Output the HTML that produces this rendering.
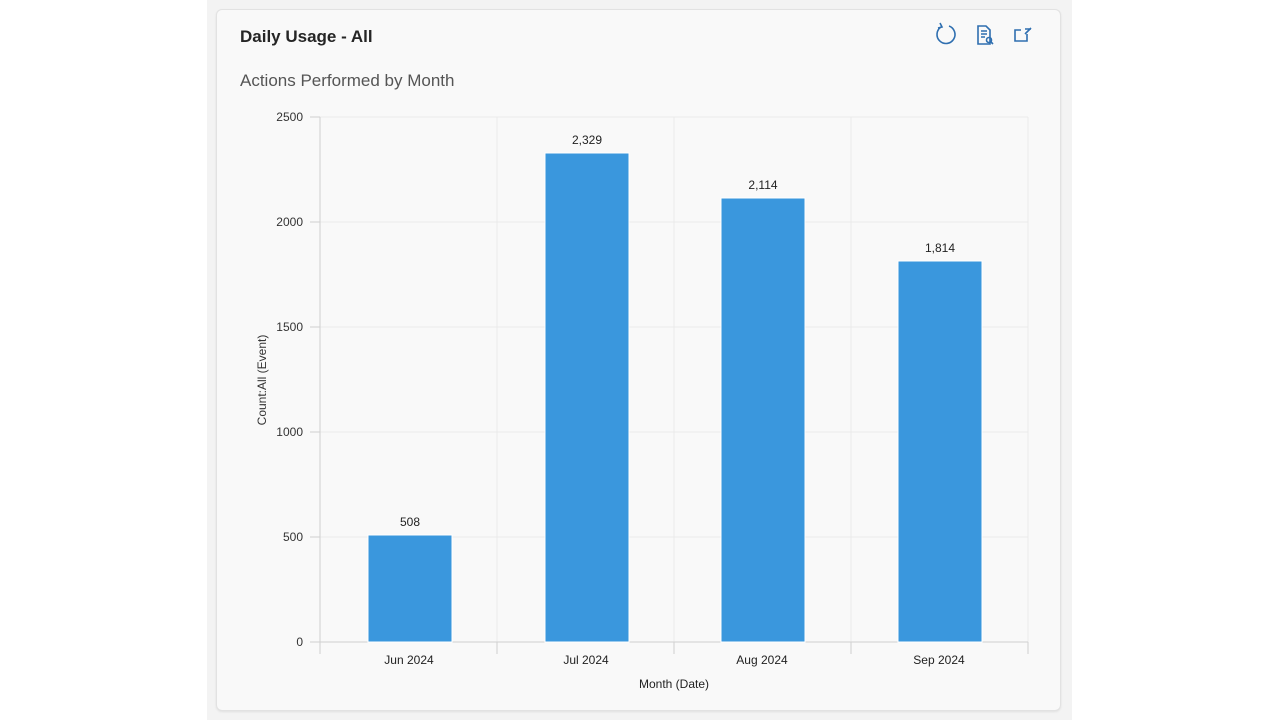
<!DOCTYPE html>
<html><head><meta charset="utf-8"><style>
html,body{margin:0;padding:0;background:#fff;width:1280px;height:720px;overflow:hidden;font-family:"Segoe UI","Liberation Sans",sans-serif;}
.outer{position:absolute;left:207px;top:0;width:865px;height:720px;background:#f3f3f3;}
.card{position:absolute;left:216px;top:9px;width:843px;height:700px;background:#f9f9f9;border:1px solid #e2e2e2;border-radius:6px;box-shadow:0 1px 2px rgba(0,0,0,0.08);}
</style></head><body>
<div class="outer"></div>
<div class="card"></div>
<svg width="1280" height="720" style="position:absolute;left:0;top:0" font-family="Liberation Sans, sans-serif">
<text x="240" y="42" font-size="17" fill="#252525" font-weight="bold" style="font-weight:600">Daily Usage - All</text>
<text x="240" y="86" font-size="17" fill="#555">Actions Performed by Month</text>
<!-- icons -->
<g fill="none" stroke="#2f6fb0" stroke-width="1.6">
<path d="M941 27 A9 9 0 1 0 949 26"/><path d="M940 23 l2 4 l-4 1"/>
<path d="M978 26 h8 l4 4 v14 h-12 z"/><path d="M981 31h6M981 34h6M981 37h4"/><circle cx="989" cy="40" r="2.5"/><path d="M991 42 l2 2"/>
<path d="M1027 34 v7 h-12 v-11 h6"/><path d="M1025 29 l6 0 l0 0 M1031 28 l-6 6"/>
</g>
<!-- grid -->
<g stroke="#ebebeb" stroke-width="1">
<line x1="320" y1="117" x2="1028" y2="117"/><line x1="320" y1="222" x2="1028" y2="222"/>
<line x1="320" y1="327" x2="1028" y2="327"/><line x1="320" y1="432" x2="1028" y2="432"/>
<line x1="320" y1="537" x2="1028" y2="537"/>
<line x1="497" y1="117" x2="497" y2="642"/><line x1="674" y1="117" x2="674" y2="642"/>
<line x1="851" y1="117" x2="851" y2="642"/><line x1="1028" y1="117" x2="1028" y2="642"/>
</g>
<g stroke="#d0d0d0" stroke-width="1">
<line x1="320" y1="117" x2="320" y2="654"/><line x1="310" y1="642" x2="1028" y2="642"/>
<line x1="310" y1="117" x2="320" y2="117"/><line x1="310" y1="222" x2="320" y2="222"/>
<line x1="310" y1="327" x2="320" y2="327"/><line x1="310" y1="432" x2="320" y2="432"/>
<line x1="310" y1="537" x2="320" y2="537"/>
<line x1="497" y1="642" x2="497" y2="654"/><line x1="674" y1="642" x2="674" y2="654"/>
<line x1="851" y1="642" x2="851" y2="654"/><line x1="1028" y1="642" x2="1028" y2="654"/>
</g>
<g font-size="12" fill="#333" text-anchor="end">
<text x="303" y="121">2500</text><text x="303" y="226">2000</text><text x="303" y="331">1500</text>
<text x="303" y="436">1000</text><text x="303" y="541">500</text><text x="303" y="646">0</text>
</g>
<text transform="translate(266 380) rotate(-90)" font-size="12" fill="#333" text-anchor="middle">Count:All (Event)</text>
<g fill="#3a97dd" stroke="#fff" stroke-width="1">
<rect x="368" y="535" width="84" height="107"/>
<rect x="545" y="153" width="84" height="489"/>
<rect x="721" y="198" width="84" height="444"/>
<rect x="898" y="261" width="84" height="381"/>
</g>
<g font-size="12" fill="#222" text-anchor="middle">
<text x="410" y="526">508</text><text x="587" y="144">2,329</text>
<text x="763" y="189">2,114</text><text x="940" y="252">1,814</text>
<text x="409" y="664">Jun 2024</text><text x="586" y="664">Jul 2024</text>
<text x="762" y="664">Aug 2024</text><text x="939" y="664">Sep 2024</text>
<text x="674" y="688">Month (Date)</text>
</g>
</svg>
</body></html>
